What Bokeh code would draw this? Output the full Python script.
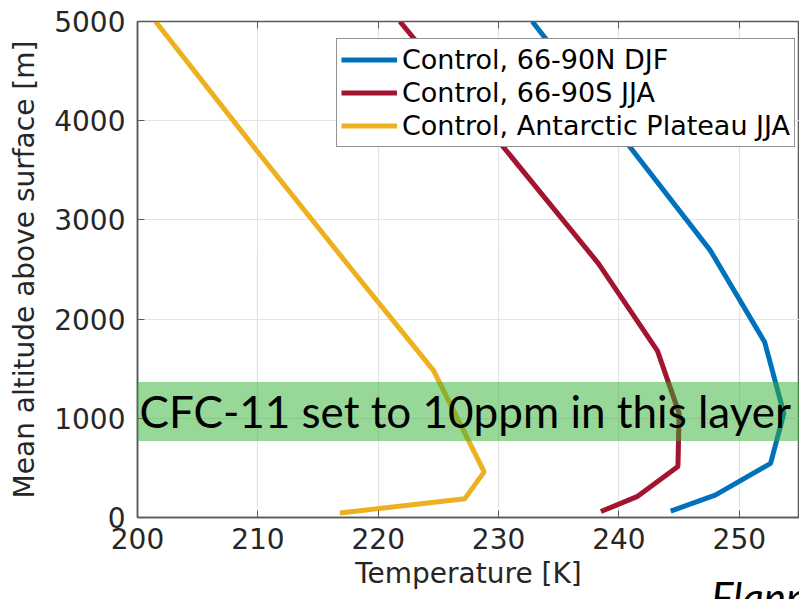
from bokeh.plotting import figure
from bokeh.layouts import column
from bokeh.models import (Range1d, Legend, LegendItem, BoxAnnotation, Label, Div,
                          LinearAxis, FixedTicker, CustomJSTickFormatter)
from bokeh.embed import file_html
from bokeh.resources import INLINE

# ---- data ----
x_ticks = [200, 210, 220, 230, 240, 250]
y_ticks = [0, 1000, 2000, 3000, 4000, 5000]

north_djf_temp = [244.3, 248.0, 252.6, 253.7, 252.1, 247.6, 240.5, 232.8]
north_djf_alt = [65, 225, 545, 1050, 1770, 2690, 3800, 5000]

south_jja_temp = [238.5, 241.5, 244.9, 245.0, 243.2, 238.3, 230.9, 221.8]
south_jja_alt = [60, 210, 515, 1050, 1680, 2560, 3660, 5000]

plateau_jja_temp = [216.8, 227.2, 228.8, 224.6, 217.8, 209.9, 201.5]
plateau_jja_alt = [45, 190, 460, 1480, 2500, 3700, 5000]

series_names = ["Control, 66-90N DJF", "Control, 66-90S JJA",
                "Control, Antarctic Plateau JJA"]
series_colors = ["#0072BD", "#A2142F", "#EDB120"]

layer_bottom, layer_top = 770, 1365
layer_text = "CFC-11 set to 10ppm in this layer"
credit_text = "Flanner"

FONT = "DejaVu Sans"
TXT = "#262626"

p = figure(width=799, height=599, x_range=Range1d(200, 255), y_range=Range1d(0, 5000),
           output_backend="svg", toolbar_location=None,
           min_border_left=137, min_border_right=0, min_border_top=21, min_border_bottom=82)
p.background_fill_color = "white"
p.border_fill_color = "white"
p.outline_line_color = "#595959"
p.outline_line_width = 1.5

for ax in (p.xaxis[0], p.yaxis[0]):
    ax.major_label_text_font = FONT
    ax.major_label_text_font_size = "28px"
    ax.major_label_text_color = TXT
    ax.axis_label_text_font = FONT
    ax.axis_label_text_font_size = "28px"
    ax.axis_label_text_font_style = "normal"
    ax.axis_label_text_color = TXT
    ax.axis_line_color = "#595959"
    ax.axis_line_width = 1.5
    ax.major_tick_in = 7
    ax.major_tick_out = 0
    ax.major_tick_line_color = "#595959"
    ax.minor_tick_line_color = None

p.xaxis[0].ticker = FixedTicker(ticks=x_ticks)
p.yaxis[0].ticker = FixedTicker(ticks=y_ticks)
p.xaxis[0].axis_label = "Temperature [K]"
p.yaxis[0].axis_label = "Mean altitude above surface [m]"
p.xaxis[0].major_label_standoff = 10
p.xaxis[0].axis_label_standoff = 5
p.yaxis[0].major_label_standoff = 12
p.yaxis[0].axis_label_standoff = 10

top_axis = LinearAxis(ticker=FixedTicker(ticks=x_ticks),
                      formatter=CustomJSTickFormatter(code="return ''"),
                      major_label_standoff=0,
                      major_tick_in=7, major_tick_out=0, axis_line_color="#595959",
                      major_tick_line_color="#595959", minor_tick_line_color=None)
p.add_layout(top_axis, "above")

p.xgrid.ticker = FixedTicker(ticks=x_ticks)
p.ygrid.ticker = FixedTicker(ticks=y_ticks)
p.grid.grid_line_color = "#e3e3e3"
p.grid.grid_line_width = 1.2

r1 = p.line(north_djf_temp, north_djf_alt, line_color=series_colors[0], line_width=5)
r2 = p.line(south_jja_temp, south_jja_alt, line_color=series_colors[1], line_width=5)
r3 = p.line(plateau_jja_temp, plateau_jja_alt, line_color=series_colors[2], line_width=5)

band = BoxAnnotation(bottom=layer_bottom, top=layer_top, fill_color="#30b030",
                     fill_alpha=0.5, line_color=None)
p.add_layout(band)

p.add_layout(Label(x=200, y=1070, x_offset=2, text=layer_text, text_font="Lato",
                   text_font_size="44px", text_color="black", text_baseline="alphabetic"))

legend = Legend(items=[LegendItem(label=series_names[0], renderers=[r1]),
                       LegendItem(label=series_names[1], renderers=[r2]),
                       LegendItem(label=series_names[2], renderers=[r3])],
                location=(199, 370))
legend.label_text_font = FONT
legend.label_text_font_size = "27px"
legend.label_text_color = "black"
legend.glyph_width = 56
legend.glyph_height = 33
legend.label_height = 33
legend.label_standoff = 5
legend.spacing = 0
legend.padding = 4
legend.margin = 0
legend.border_line_color = "#262626"
legend.border_line_width = 1.5
legend.background_fill_color = "white"
legend.background_fill_alpha = 1
p.add_layout(legend)

credit = Div(text=credit_text, width=88, height=23, margin=(-23, 0, 0, 711),
             styles={"font-family": "Lato", "font-style": "italic", "font-size": "42px",
                     "line-height": "42px", "color": "black", "overflow": "hidden",
                     "white-space": "nowrap", "z-index": "10"})

layout = column(p, credit, spacing=0)
open("out.html", "w").write(file_html(layout, INLINE))
